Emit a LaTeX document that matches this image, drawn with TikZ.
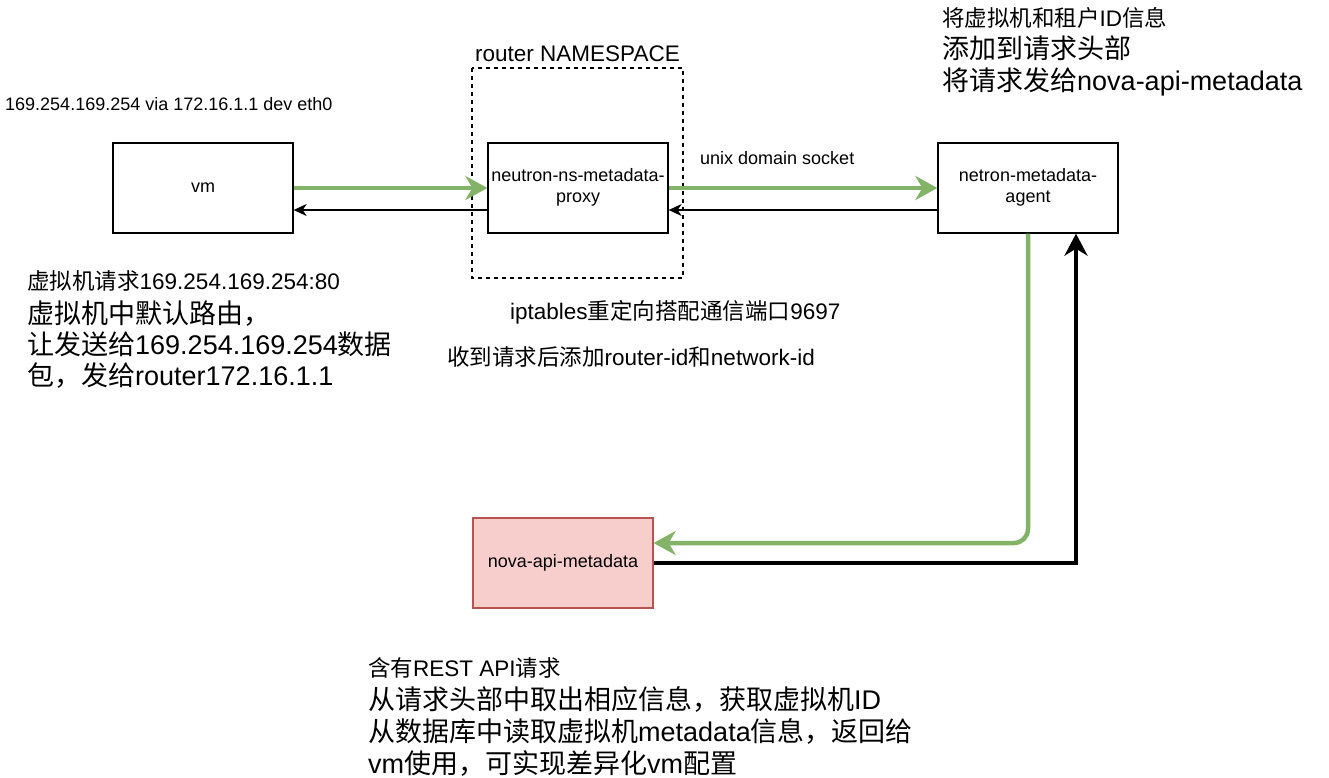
\documentclass[tikz,border=0pt]{standalone}
\usepackage{fontspec}
\setmainfont{Liberation Sans}
\newfontfamily\cjk{Noto Sans CJK SC}
\newcommand{\zh}[1]{{\cjk #1}}
\newcommand{\twolines}[2]{\raisebox{-2pt}{\begin{tabular}{@{}c@{}}#1\\#2\end{tabular}}}
\usetikzlibrary{arrows.meta}

\definecolor{flowgreen}{HTML}{82B366}
\definecolor{novafill}{HTML}{F8CECC}
\definecolor{novaline}{HTML}{B85450}

\tikzset{
  box/.style={draw, line width=1.3pt, minimum width=180pt, minimum height=90pt,
    inner sep=0pt, align=center, font=\fontsize{18}{21}\selectfont},
  nsbox/.style={draw, dash pattern=on 4pt off 4pt, line width=1.2pt},
  flow/.style={draw=flowgreen, line width=4.5pt, -{Stealth[length=22pt,width=24pt,inset=7pt]}},
  back/.style={line width=1.5pt, -{Stealth[length=13pt,width=12pt,inset=4pt]}},
  reply/.style={line width=4.5pt, -{Stealth[length=22pt,width=23pt,inset=7pt]}},
  note/.style={anchor=base west, inner sep=0pt},
  small/.style={font=\fontsize{18}{21}\selectfont},
  mid/.style={font=\fontsize{22.5}{26}\selectfont},
  big/.style={font=\fontsize{27}{31}\selectfont}
}

\begin{document}
\begin{tikzpicture}[x=1pt, y=-1pt]
  \useasboundingbox (0,0) rectangle (1329,777);

  % router namespace
  \draw[nsbox] (472,68) rectangle (683,278);
  \node[note, mid] (nslabel) at (475,61) {router NAMESPACE};

  % boxes
  \node[box] (vm) at (203,188) {vm};
  \node[box] (proxy) at (578,188) {\twolines{neutron-ns-metadata-}{proxy}};
  \node[box] (agent) at (1028,188) {\twolines{netron-metadata-}{agent}};
  \node[box, fill=novafill, draw=novaline] (nova) at (563,563) {nova-api-metadata};

  % links
  \draw[flow] (vm.east) -- (proxy.west);
  \draw[back] ([yshift=-22pt]proxy.west) -- ([yshift=-22pt]vm.east);
  \draw[flow] (proxy.east) -- (agent.west);
  \draw[back] ([yshift=-22pt]agent.west) -- ([yshift=-22pt]proxy.east);
  \draw[flow, rounded corners=14pt] (agent.south) |- ([yshift=20pt]nova.east);
  \draw[reply] (nova.east) -| ([xshift=48pt]agent.south);

  % notes
  \node[note, small] (route) at (5,110) {169.254.169.254 via 172.16.1.1 dev eth0};
  \node[note, small] (sock) at (700,164) {unix domain socket};

  \node[note, mid] (vm1) at (27,289) {\zh{虚拟机请求}169.254.169.254:80};
  \node[note, big] (vm2) at (27,323) {\zh{虚拟机中默认路由，}};
  \node[note, big] (vm3) at (27,354) {\zh{让发送给}169.254.169.254\zh{数据}};
  \node[note, big] (vm4) at (27,385) {\zh{包，发给}router172.16.1.1};

  \node[note, mid] (ipt) at (510,319) {iptables\zh{重定向搭配通信端口}9697};
  \node[note, mid] (ids) at (447,365) {\zh{收到请求后添加}router-id\zh{和}network-id};

  \node[note, mid] (ag1) at (942,26) {\zh{将虚拟机和租户}ID\zh{信息}};
  \node[note, big] (ag2) at (942,58) {\zh{添加到请求头部}};
  \node[note, big] (ag3) at (942,90) {\zh{将请求发给}nova-api-metadata};

  \node[note, mid] (nv1) at (368,676) {\zh{含有}REST API\zh{请求}};
  \node[note, big] (nv2) at (368,709) {\zh{从请求头部中取出相应信息，获取虚拟机}ID};
  \node[note, big] (nv3) at (368,741) {\zh{从数据库中读取虚拟机}metadata\zh{信息，返回给}};
  \node[note, big] (nv4) at (368,773) {vm\zh{使用，可实现差异化}vm\zh{配置}};
\end{tikzpicture}
\end{document}
